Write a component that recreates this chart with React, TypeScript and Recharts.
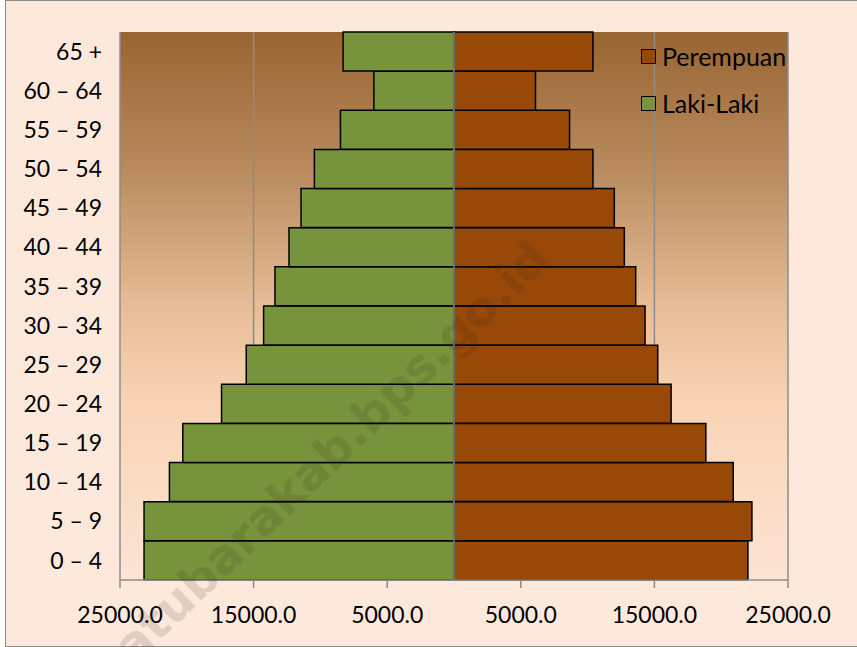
import { Bar, BarChart, CartesianGrid, ReferenceLine, XAxis, YAxis } from "recharts";

// age groups, bottom to top
const ageGroups = [
  "0 – 4",
  "5 – 9",
  "10 – 14",
  "15 – 19",
  "20 – 24",
  "25 – 29",
  "30 – 34",
  "35 – 39",
  "40 – 44",
  "45 – 49",
  "50 – 54",
  "55 – 59",
  "60 – 64",
  "65 +",
];

const lakiLaki = [23200, 23200, 21300, 20300, 17400, 15550, 14250, 13400, 12350, 11450, 10450, 8500, 6000, 8300];
const perempuan = [22000, 22300, 20900, 18850, 16250, 15250, 14300, 13600, 12750, 12000, 10400, 8650, 6100, 10400];

const xTicks = [-25000, -15000, -5000, 5000, 15000, 25000];

const GREEN = "#77933c";
const BROWN = "#984807";
const FONT = "Lato, 'Open Sans', sans-serif";

const data = ageGroups.map((g, i) => ({
  group: g,
  laki: -lakiLaki[i],
  perempuan: perempuan[i],
}));

const legendItems = [
  { name: "Perempuan", color: BROWN },
  { name: "Laki-Laki", color: GREEN },
];

export default function App() {
  return (
    <div style={{ position: "absolute", left: 0, top: 0, width: 857, height: 647, overflow: "hidden", fontFamily: FONT }}>
      <div
        style={{
          position: "absolute",
          left: 5,
          top: 0,
          width: 860,
          height: 645,
          background: "#fde9db",
          border: "1.5px solid #8c8c8c",
        }}
      />
      <div style={{ position: "absolute", left: 0, top: 0 }}>
        <BarChart
          width={857}
          height={647}
          data={data}
          layout="vertical"
          stackOffset="sign"
          barCategoryGap={0}
          margin={{ top: 32, right: 69, bottom: 27, left: 0 }}
        >
          <defs>
            <linearGradient id="plotBg" x1="0" y1="0" x2="0" y2="1">
              <stop offset="0%" stopColor="#986531" />
              <stop offset="25%" stopColor="#b88a5e" />
              <stop offset="50%" stopColor="#e7bd97" />
              <stop offset="68%" stopColor="#f9d4b5" />
              <stop offset="100%" stopColor="#fde4d4" />
            </linearGradient>
          </defs>
          <CartesianGrid horizontal={false} stroke="#8c8c8c" strokeWidth={1.5} fill="url(#plotBg)" fillOpacity={1} />
          <XAxis
            type="number"
            domain={[-25000, 25000]}
            ticks={xTicks}
            tickFormatter={(v) => Math.abs(v as number).toFixed(1)}
            tick={{ fontSize: 23, fill: "#000", fontFamily: FONT }}
            axisLine={{ stroke: "#8c8c8c", strokeWidth: 1.5 }}
            tickLine={{ stroke: "#8c8c8c", strokeWidth: 1.5 }}
            tickSize={8}
            tickMargin={19}
            height={40}
            interval={0}
          />
          <YAxis
            type="category"
            dataKey="group"
            reversed
            width={120}
            axisLine={false}
            tickLine={false}
            tickSize={6}
            tickMargin={12}
            tick={{ fontSize: 23, fill: "#000", fontFamily: FONT }}
            interval={0}
          />
          <Bar dataKey="laki" stackId="a" fill={GREEN} stroke="#000" strokeWidth={1.5} isAnimationActive={false} />
          <Bar dataKey="perempuan" stackId="a" fill={BROWN} stroke="#000" strokeWidth={1.5} isAnimationActive={false} />
          <ReferenceLine x={0} stroke="#8c8c8c" strokeWidth={1.5} />
        </BarChart>
      </div>
      <div style={{ position: "absolute", left: 641, top: 43 }}>
        {legendItems.map((it) => (
          <div key={it.name} style={{ display: "flex", alignItems: "center", height: 26, marginBottom: 21 }}>
            <span
              style={{
                display: "inline-block",
                width: 13,
                height: 13,
                background: it.color,
                border: "1.5px solid #000",
                marginRight: 6,
              }}
            />
            <span style={{ fontSize: 25, color: "#000", lineHeight: "26px" }}>{it.name}</span>
          </div>
        ))}
      </div>
      <svg width={857} height={647} style={{ position: "absolute", left: 0, top: 0, pointerEvents: "none" }}>
        <text
          transform="translate(552,262) rotate(-44)"
          textAnchor="end"
          fontFamily="'DejaVu Sans', sans-serif"
          fontWeight="bold"
          fontSize={48}
          fill="#3a2a1a"
          fillOpacity={0.14}
        >
          batubarakab.bps.go.id
        </text>
      </svg>
    </div>
  );
}
